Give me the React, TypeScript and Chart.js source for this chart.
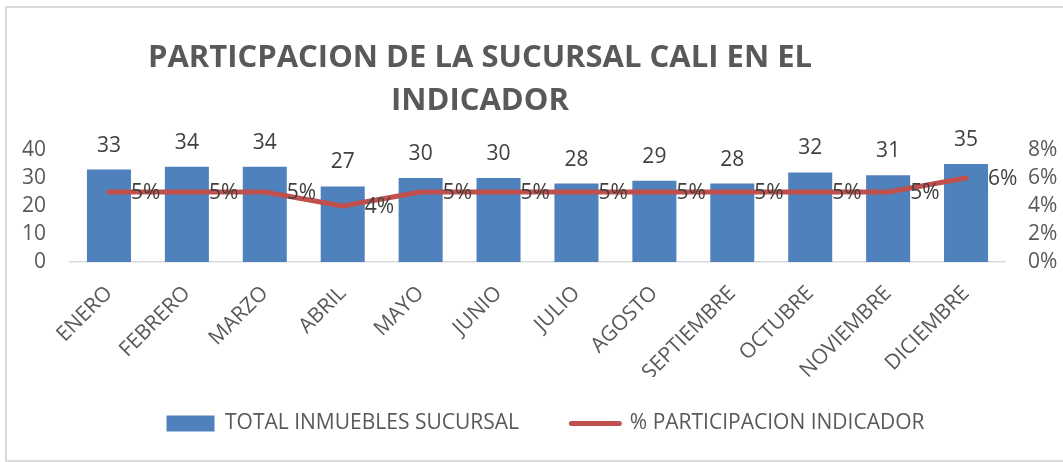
import React, { useEffect, useRef } from 'react';
import { Chart, registerables } from 'chart.js';

Chart.register(...registerables);

const categories = ['ENERO', 'FEBRERO', 'MARZO', 'ABRIL', 'MAYO', 'JUNIO', 'JULIO', 'AGOSTO', 'SEPTIEMBRE', 'OCTUBRE', 'NOVIEMBRE', 'DICIEMBRE'];
const totalInmuebles = [33, 34, 34, 27, 30, 30, 28, 29, 28, 32, 31, 35];
const participacion = [5, 5, 5, 4, 5, 5, 5, 5, 5, 5, 5, 6];
const leftTicks = [0, 10, 20, 30, 40];
const rightTicks = [0, 2, 4, 6, 8];
const titleLines = ['PARTICPACION DE LA SUCURSAL CALI EN EL', 'INDICADOR'];
const seriesNames = ['TOTAL INMUEBLES SUCURSAL', '% PARTICIPACION INDICADOR'];

const FONT = '"Open Sans", "Liberation Sans", sans-serif';
const BLUE = '#4f81bd';
const RED = '#c0504d';
const TEXT = '#595959';
const LABEL = '#404040';

const titlePlugin = {
  id: 'customTitle',
  afterDraw(chart: any) {
    const ctx = chart.ctx;
    ctx.save();
    ctx.font = `bold 31px ${FONT}`;
    ctx.fillStyle = TEXT;
    ctx.textAlign = 'center';
    ctx.textBaseline = 'middle';
    titleLines.forEach((line, i) => ctx.fillText(line, 480, 58 + i * 43));
    ctx.restore();
  },
};

const legendShift = {
  id: 'legendShift',
  afterLayout(chart: any) {
    if (chart.legend) {
      chart.legend.left += 8;
      chart.legend.right += 8;
    }
  },
};

const labelsPlugin = {
  id: 'valueLabels',
  afterDatasetsDraw(chart: any) {
    const ctx = chart.ctx;
    ctx.save();
    ctx.font = `21px ${FONT}`;
    ctx.fillStyle = LABEL;
    ctx.textBaseline = 'middle';
    const barMeta = chart.getDatasetMeta(0);
    ctx.textAlign = 'center';
    barMeta.data.forEach((el: any, i: number) => {
      ctx.fillText(String(totalInmuebles[i]), el.x, el.y - 24);
    });
    const lineMeta = chart.getDatasetMeta(1);
    ctx.textAlign = 'left';
    lineMeta.data.forEach((el: any, i: number) => {
      ctx.fillText(participacion[i] + '%', el.x + 22, el.y + 1);
    });
    ctx.restore();
  },
};

export default function App() {
  const ref = useRef<HTMLCanvasElement>(null);
  useEffect(() => {
    document.body.style.margin = '0';
    if (!ref.current) return;
    const chart = new Chart(ref.current, {
      type: 'bar',
      data: {
        labels: categories,
        datasets: [
          {
            type: 'bar',
            label: seriesNames[0],
            data: totalInmuebles,
            backgroundColor: BLUE,
            borderWidth: 0,
            yAxisID: 'y',
            categoryPercentage: 1,
            barPercentage: 0.565,
            order: 2,
          },
          {
            type: 'line',
            label: seriesNames[1],
            data: participacion,
            borderColor: RED,
            backgroundColor: RED,
            borderWidth: 5,
            borderCapStyle: 'round',
            borderJoinStyle: 'round',
            pointRadius: 0,
            tension: 0,
            yAxisID: 'y1',
            order: 1,
          },
        ],
      },
      options: {
        responsive: false,
        animation: false,
        layout: { padding: { top: 150, bottom: 18, left: 0, right: 0 } },
        plugins: {
          title: { display: false },
          tooltip: { enabled: false },
          legend: {
            position: 'bottom',
            fullSize: false,
            labels: {
              usePointStyle: true,
              pointStyleWidth: 48,
              boxHeight: 16,
              padding: 36,
              color: TEXT,
              font: { family: FONT, size: 21 },
              generateLabels: () => [
                { text: seriesNames[0] + '   ', fillStyle: BLUE, strokeStyle: BLUE, lineWidth: 0, pointStyle: 'rect', datasetIndex: 0, fontColor: TEXT },
                { text: seriesNames[1], fillStyle: RED, strokeStyle: RED, lineWidth: 5, lineCap: 'round', pointStyle: 'line', datasetIndex: 1, fontColor: TEXT },
              ],
            },
          },
        },
        scales: {
          x: {
            grid: { display: false },
            border: { display: true, color: '#d9d9d9', width: 1.5 },
            ticks: {
              color: TEXT,
              font: { family: FONT, size: 21 },
              maxRotation: 45,
              minRotation: 45,
              autoSkip: false,
              padding: 11,
            },
            afterFit: (s: any) => { s.height = 115; },
          },
          y: {
            position: 'left',
            min: leftTicks[0],
            max: leftTicks[leftTicks.length - 1],
            grid: { display: false },
            border: { display: false },
            afterBuildTicks: (s: any) => { s.ticks = leftTicks.map((v) => ({ value: v })); },
            ticks: {
              color: TEXT,
              font: { family: FONT, size: 21 },
              padding: 16,
              autoSkip: false,
            },
            afterFit: (s: any) => { s.width = 70; },
          },
          y1: {
            position: 'right',
            min: rightTicks[0],
            max: rightTicks[rightTicks.length - 1],
            grid: { display: false },
            border: { display: false },
            afterBuildTicks: (s: any) => { s.ticks = rightTicks.map((v) => ({ value: v })); },
            ticks: {
              color: TEXT,
              font: { family: FONT, size: 21 },
              padding: 15,
              autoSkip: false,
              callback: (v: any) => v + '%',
            },
            afterFit: (s: any) => { s.width = 58; },
          },
        },
      },
      plugins: [titlePlugin, labelsPlugin, legendShift],
    });
    return () => chart.destroy();
  }, []);

  return (
    <div style={{ position: 'relative', width: 1063, height: 462, overflow: 'hidden', background: '#fff' }}>
      <canvas ref={ref} width={1063} height={462} style={{ position: 'absolute', left: 0, top: 0 }} />
      <div
        style={{
          position: 'absolute',
          left: 5,
          top: 6,
          width: 1070,
          height: 452,
          border: '2px solid #d9d9d9',
          pointerEvents: 'none',
        }}
      />
    </div>
  );
}
